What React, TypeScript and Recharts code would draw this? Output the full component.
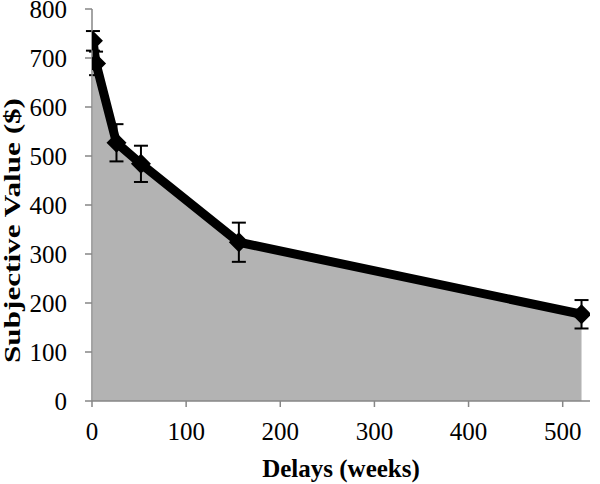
import React from 'react';
import { ComposedChart, Area, Line, XAxis, YAxis, ErrorBar, Label } from 'recharts';

const delays = [1, 4.3, 26, 52, 156, 520];
const values = [735, 689, 527, 484, 324, 177];
const errors = [20, 24, 38, 37, 40, 29];
const xTicks = [0, 100, 200, 300, 400, 500];
const yTicks = [0, 100, 200, 300, 400, 500, 600, 700, 800];

const data = delays.map((d, i) => ({ delay: d, value: values[i], err: errors[i] }));

const FONT = '"Liberation Serif", "Times New Roman", serif';
const AXIS = '#868686';

const Diamond = (props: any) => {
  const { cx, cy } = props;
  if (cx == null || cy == null) return null;
  const r = 10;
  return <path d={`M${cx},${cy - r}L${cx + r},${cy}L${cx},${cy + r}L${cx - r},${cy}Z`} fill="#000" />;
};

const XTick = (props: any) => {
  const { x, y, payload } = props;
  return (
    <text x={x} y={y + 17} textAnchor="middle" fontFamily={FONT} fontSize={25} fill="#000">
      {payload.value}
    </text>
  );
};

const YTick = (props: any) => {
  const { x, y, payload } = props;
  return (
    <text x={x} y={y + 9.3} textAnchor="end" fontFamily={FONT} fontSize={25} fill="#000">
      {payload.value}
    </text>
  );
};

const YLabel = () => {
  const x = 20;
  const y = 230.5;
  return (
    <text x={x} y={y} transform={`rotate(-90 ${x} ${y})`} textAnchor="middle"
      textLength={265} lengthAdjust="spacingAndGlyphs"
      fontFamily={FONT} fontSize={24} fontWeight="bold" fill="#000">
      Subjective Value ($)
    </text>
  );
};

const XLabel = (props: any) => {
  const vb = props.viewBox || {};
  const x = (vb.x ?? 92) + (vb.width ?? 498) / 2;
  return (
    <text x={x} y={476.5} textAnchor="middle" fontFamily={FONT} fontSize={25} fontWeight="bold" fill="#000">
      Delays (weeks)
    </text>
  );
};

export default function App() {
  return (
    <div style={{ position: 'absolute', left: 0, top: 0, width: 600, height: 484, background: '#fff' }}>
      <ComposedChart width={600} height={484} data={data} margin={{ top: 9, right: 10, left: 0, bottom: 0 }}>
        <XAxis
          dataKey="delay"
          type="number"
          domain={[0, 529]}
          ticks={xTicks}
          height={83}
          stroke={AXIS}
          strokeWidth={1.5}
          tickSize={6}
          tickMargin={16}
          tick={<XTick />}
          allowDataOverflow
        >
          <Label content={<XLabel />} />
        </XAxis>
        <YAxis
          type="number"
          domain={[0, 800]}
          ticks={yTicks}
          width={92}
          stroke={AXIS}
          strokeWidth={1.5}
          tickSize={7}
          tickMargin={18}
          tick={<YTick />}
        >
          <Label content={<YLabel />} />
        </YAxis>
        <Area type="linear" dataKey="value" stroke="none" fill="#b3b3b3" fillOpacity={1} isAnimationActive={false} />
        <Line type="linear" dataKey="value" stroke="#000" strokeWidth={9} dot={<Diamond />} activeDot={false} isAnimationActive={false}>
          <ErrorBar dataKey="err" direction="y" width={7} stroke="#000" strokeWidth={2} />
        </Line>
      </ComposedChart>
    </div>
  );
}
